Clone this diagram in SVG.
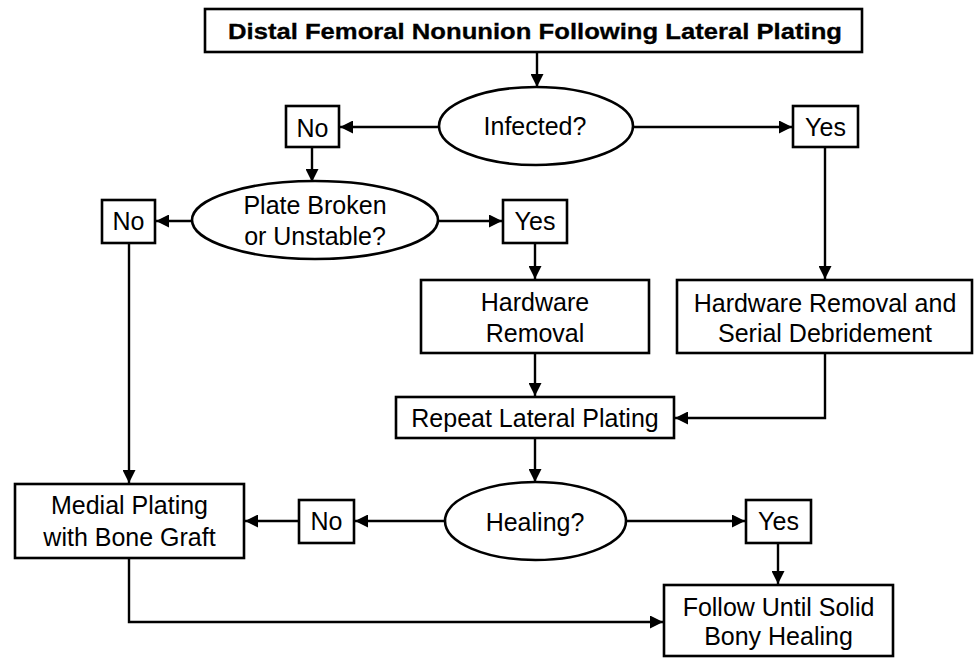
<svg xmlns="http://www.w3.org/2000/svg" width="974" height="659" viewBox="0 0 974 659">
<defs>
<marker id="ah" viewBox="0 0 13 13" refX="13" refY="6.5" markerWidth="13" markerHeight="13" markerUnits="userSpaceOnUse" orient="auto">
<path d="M0,0 L13,6.5 L0,13 Z" fill="#000"/>
</marker>
<style>
.box{fill:#fff;stroke:#000;stroke-width:2.6}
.t{font-family:"Liberation Sans",Arial,sans-serif;font-size:25px;fill:#000;text-anchor:middle}
.tb{font-family:"Liberation Sans",Arial,sans-serif;font-size:22px;font-weight:bold;fill:#000;stroke:#000;stroke-width:0.3;text-anchor:middle}
.c{fill:none;stroke:#000;stroke-width:2.4;marker-end:url(#ah)}
</style>
</defs>
<rect width="974" height="659" fill="#fff"/>
<g id="connectors">
<path class="c" d="M537,52 V87"/>
<path class="c" d="M439,127 H340"/>
<path class="c" d="M633,127 H792"/>
<path class="c" d="M312,147 V182"/>
<path class="c" d="M192,221 H156"/>
<path class="c" d="M438,221 H502"/>
<path class="c" d="M535,243 V279"/>
<path class="c" d="M825,147 V279"/>
<path class="c" d="M129,243 V483"/>
<path class="c" d="M535,353 V396"/>
<path class="c" d="M825,353 V418 H675"/>
<path class="c" d="M535,438 V482"/>
<path class="c" d="M445,521 H355"/>
<path class="c" d="M299,521 H245"/>
<path class="c" d="M626,521 H745"/>
<path class="c" d="M778,543 V584"/>
<path class="c" d="M129,558 V622 H663"/>
</g>
<g id="title"><rect class="box" x="205" y="9" width="657" height="43"/><text class="tb" x="535" y="39" textLength="614" lengthAdjust="spacingAndGlyphs">Distal Femoral Nonunion Following Lateral Plating</text></g>
<g id="infected"><ellipse class="box" cx="536" cy="126" rx="97" ry="39"/><text class="t" x="535" y="135">Infected?</text></g>
<g id="no1"><rect class="box" x="286" y="106" width="53" height="41"/><text class="t" x="312.5" y="137">No</text></g>
<g id="yes1"><rect class="box" x="793" y="106" width="65" height="41"/><text class="t" x="825.5" y="136">Yes</text></g>
<g id="plate"><ellipse class="box" cx="315" cy="220" rx="123" ry="39"/><text class="t" x="315" y="214">Plate Broken</text><text class="t" x="315" y="245">or Unstable?</text></g>
<g id="no2"><rect class="box" x="102" y="200" width="53" height="43"/><text class="t" x="128.5" y="230">No</text></g>
<g id="yes2"><rect class="box" x="503" y="200" width="64" height="43"/><text class="t" x="535" y="230">Yes</text></g>
<g id="hw"><rect class="box" x="421" y="280" width="228" height="73"/><text class="t" x="535" y="311">Hardware</text><text class="t" x="535" y="342">Removal</text></g>
<g id="hwsd"><rect class="box" x="677" y="280" width="295" height="73"/><text class="t" x="825" y="312">Hardware Removal and</text><text class="t" x="825" y="342">Serial Debridement</text></g>
<g id="repeat"><rect class="box" x="396" y="397" width="278" height="41"/><text class="t" x="535" y="427">Repeat Lateral Plating</text></g>
<g id="healing"><ellipse class="box" cx="535.5" cy="521" rx="90.5" ry="39"/><text class="t" x="535" y="531">Healing?</text></g>
<g id="no3"><rect class="box" x="299" y="500" width="55" height="43"/><text class="t" x="326.5" y="530">No</text></g>
<g id="yes3"><rect class="box" x="746" y="500" width="65" height="43"/><text class="t" x="778.5" y="530">Yes</text></g>
<g id="medial"><rect class="box" x="15" y="484" width="229" height="74"/><text class="t" x="129.5" y="514">Medial Plating</text><text class="t" x="129.5" y="546">with Bone Graft</text></g>
<g id="follow"><rect class="box" x="664" y="585" width="229" height="71"/><text class="t" x="778.5" y="616">Follow Until Solid</text><text class="t" x="778.5" y="645">Bony Healing</text></g>
</svg>
